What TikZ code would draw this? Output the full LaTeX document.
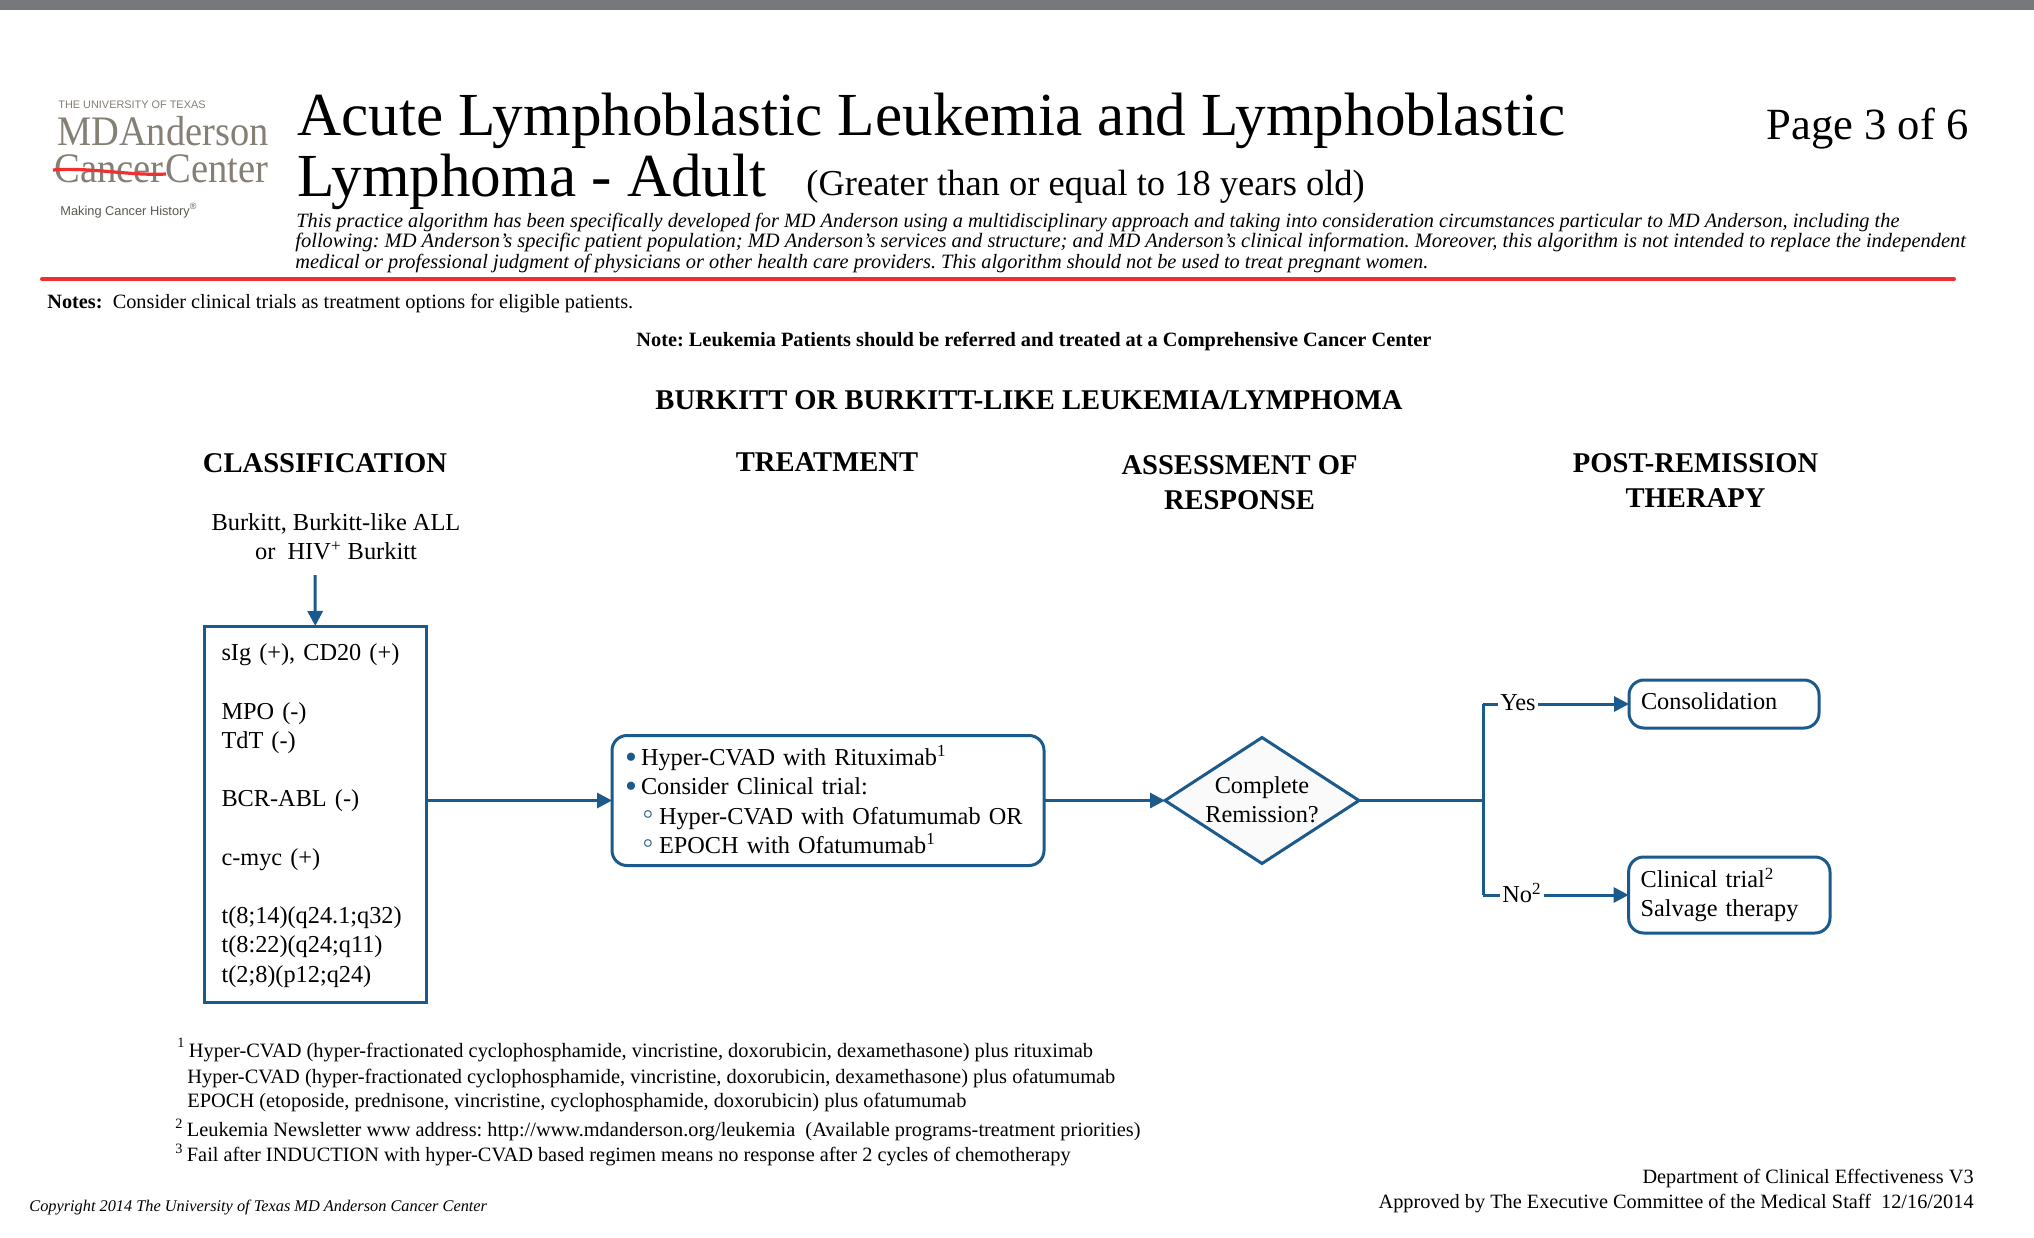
\documentclass[tikz,border=0pt]{standalone}
\usepackage{fontspec}
\setmainfont{Liberation Serif}
\setsansfont{Liberation Sans}
\usetikzlibrary{shapes.geometric,arrows.meta}
\definecolor{algblue}{HTML}{1B5A8C}
\definecolor{logogray}{HTML}{857F76}
\definecolor{rulered}{HTML}{EE3130}
\definecolor{bargray}{HTML}{77787B}
\frenchspacing
\newcommand{\treatdot}{\makebox[9.5pt][l]{\hspace{1.6pt}\textcolor{algblue}{\raisebox{-1.3pt}[0pt][0pt]{\scalebox{1.4}{\textbullet}}}}}
\newcommand{\treatring}{\makebox[18.5pt][l]{\hspace{10.5pt}\textcolor{algblue}{\raisebox{.5ex}[0pt][0pt]{\boldmath\footnotesize$\circ$}}}}
\tikzset{
  txt/.style={anchor=base west,inner sep=0pt},
  head/.style={inner sep=0pt,align=center,font=\fontsize{14.3}{17.5}\selectfont\bfseries},
  foot/.style={txt,font=\fontsize{10.2}{12}\selectfont},
  algbox/.style={draw=algblue,line width=1.5pt,outer sep=0pt,inner ysep=0pt,align=left,
    font=\fontsize{12.15}{14.6}\selectfont},
  roundbox/.style={algbox,rounded corners=7.5pt,fill=white},
  algline/.style={draw=algblue,line width=1.5pt},
  algarrow/.style={algline,-{Triangle[length=7.5pt,width=7.5pt]}}
}
\begin{document}
\begin{tikzpicture}[x=.5pt,y=-.5pt]
\useasboundingbox (0,0) rectangle (2034,1237);
\fill[white] (0,0) rectangle (2034,1237);
\fill[bargray] (0,0) rectangle (2034,10);

% logo
\node [txt,text=logogray,font=\sffamily\fontsize{5.45}{6}\selectfont] (logouniv) at (58,108) {THE UNIVERSITY OF TEXAS};
\node [txt,text=logogray,font=\fontsize{20}{24}\selectfont] (logomd) at (57,145) {\scalebox{.96}[1.05]{MDAnderson}};
\node [txt,text=logogray,font=\fontsize{20}{24}\selectfont] (logocc) at (54,182) {\scalebox{.965}[1.05]{Cancer\hspace{1pt}Center}};
\draw [rulered,line width=1.6pt] (53,170) .. controls (90,167) and (130,176) .. (166,174);
\node [txt,text=logogray!70!black,font=\sffamily\fontsize{6.4}{8}\selectfont] (logomaking) at (60,215) {Making Cancer History\textsuperscript{\textregistered}};

% heading
\node [txt,font=\fontsize{30.6}{36}\selectfont] (titleone) at (297,135) {Acute Lymphoblastic Leukemia and Lymphoblastic};
\node [txt,font=\fontsize{30.6}{36}\selectfont] (titletwo) at (297,196) {Lymphoma - Adult};
\node [txt,font=\fontsize{18.25}{22}\selectfont] (titleage) at (806,195) {(Greater than or equal to 18 years old)};
\node [txt,font=\fontsize{22.3}{26}\selectfont] (pagenum) at (1766,139) {Page 3 of 6};
\node [txt,font=\fontsize{10.16}{12}\selectfont\itshape] (practiceone) at (296,227) {This practice algorithm has been specifically developed for MD Anderson using a multidisciplinary approach and taking into consideration circumstances particular to MD Anderson, including the};
\node [txt,font=\fontsize{10.24}{12}\selectfont\itshape] (practicetwo) at (295,247) {following: MD Anderson’s specific patient population; MD Anderson’s services and structure; and MD Anderson’s clinical information. Moreover, this algorithm is not intended to replace the independent};
\node [txt,font=\fontsize{10.18}{12}\selectfont\itshape] (practicethree) at (295,268) {medical or professional judgment of physicians or other health care providers. This algorithm should not be used to treat pregnant women.};
\draw [rulered,line width=2pt,line cap=round] (42,279) -- (1954,279);

\node [txt,font=\fontsize{10.15}{12}\selectfont] (notes) at (47,308) {\textbf{Notes:}\ \ Consider clinical trials as treatment options for eligible patients.};
\node [txt,font=\fontsize{10.17}{12}\selectfont\bfseries] (notecenter) at (636,346) {Note: Leukemia Patients should be referred and treated at a Comprehensive Cancer Center};
\node [head] (burkitt) at (1029,400) {BURKITT OR BURKITT-LIKE LEUKEMIA/LYMPHOMA};

\node [head] (classhead) at (325,463) {CLASSIFICATION};
\node [head] (treathead) at (827,462) {TREATMENT};
\node [head] (assesshead) at (1239.5,482.5) {ASSESSMENT OF\\RESPONSE};
\node [head] (posthead) at (1695.5,481) {POST-REMISSION\\THERAPY};

\node [inner sep=0pt,align=center,font=\fontsize{12.2}{14.6}\selectfont] (entry) at (336,537) {Burkitt, Burkitt-like ALL\\or\ \ HIV\textsuperscript{+} Burkitt};
\coordinate (entryend) at (315,575);

\node [algbox,text width=93.75pt,inner xsep=8.5pt,minimum height=188pt] (class) at (315.25,814)
  {\rule{0pt}{10pt}sIg (+), CD20 (+)\\[14.6pt]MPO (-)\\TdT (-)\\[14.6pt]BCR-ABL (-)\\[14.6pt]c-myc (+)\\[14.6pt]t(8;14)(q24.1;q32)\\t(8:22)(q24;q11)\\t(2;8)(p12;q24)};

\node [roundbox,text width=206pt,inner xsep=5pt,minimum height=65pt] (treat) at (828,800.5)
  {\treatdot Hyper-CVAD with Rituximab\textsuperscript{1}\\\treatdot Consider Clinical trial:\\
   \treatring Hyper-CVAD with Ofatumumab OR\\\treatring EPOCH with Ofatumumab\textsuperscript{1}\rule[-1pt]{0pt}{0pt}};

\node [diamond,algbox,fill=black!2,align=center,inner sep=-6pt,aspect=1.54,minimum width=97pt,minimum height=63pt] (remission) at (1262,800.5) {Complete\\Remission?\rule[-1pt]{0pt}{0pt}};
\coordinate (branch) at (1483,800.5);

\node [inner sep=1pt,font=\fontsize{12.15}{14.6}\selectfont] (yes) at (1518,703) {Yes};
\node [inner sep=1pt,font=\fontsize{12.15}{14.6}\selectfont] (no) at (1522,893) {No\textsuperscript{2}};

\node [roundbox,text width=83pt,inner xsep=6pt,minimum height=24pt] (consol) at (1724,704) {\rule[-2.6pt]{0pt}{0pt}Consolidation};
\node [roundbox,text width=88.7pt,inner xsep=6pt,minimum height=38pt] (salvage) at (1729.3,895) {Clinical trial\textsuperscript{2}\\Salvage therapy};

\draw [algarrow] (entryend) -- (class.north);
\draw [algarrow] (class.east |- treat.west) -- (treat.west);
\draw [algarrow] (treat.east) -- (remission.west);
\draw [algline] (remission.east) -- (branch);
\draw [algline] (branch |- consol.west) -- (yes.west |- consol.west);
\draw [algline] (branch |- salvage.west) -- (no.west |- salvage.west);
\draw [algline] (branch |- consol.west) -- (branch |- salvage.west);
\draw [algarrow] (yes.east |- consol.west) -- (consol.west);
\draw [algarrow] (no.east |- salvage.west) -- (salvage.west);

% notes at the bottom
\node [foot] (footone) at (177,1057) {\raisebox{1pt}{\textsuperscript{1}}\,Hyper-CVAD (hyper-fractionated cyclophosphamide, vincristine, doxorubicin, dexamethasone) plus rituximab};
\node [foot] (foottwo) at (187,1083) {Hyper-CVAD (hyper-fractionated cyclophosphamide, vincristine, doxorubicin, dexamethasone) plus ofatumumab};
\node [foot] (footthree) at (187,1107) {EPOCH (etoposide, prednisone, vincristine, cyclophosphamide, doxorubicin) plus ofatumumab};
\node [foot,font=\fontsize{10.17}{12}\selectfont] (footfour) at (175,1136) {\textsuperscript{2}\,Leukemia Newsletter www address: http://www.mdanderson.org/leukemia\ \ (Available programs-treatment priorities)};
\node [foot,font=\fontsize{10.17}{12}\selectfont] (footfive) at (175,1161) {\textsuperscript{3}\,Fail after INDUCTION with hyper-CVAD based regimen means no response after 2 cycles of chemotherapy};
\node [txt,font=\fontsize{8.16}{10}\selectfont\itshape] (copyright) at (29,1211) {Copyright 2014 The University of Texas MD Anderson Cancer Center};
\node [anchor=base east,inner sep=0pt,font=\fontsize{10.15}{12}\selectfont] (dept) at (1974,1183) {Department of Clinical Effectiveness V3};
\node [anchor=base east,inner sep=0pt,font=\fontsize{10.15}{12}\selectfont] (approved) at (1974,1208) {Approved by The Executive Committee of the Medical Staff\ \ 12/16/2014};
\end{tikzpicture}
\end{document}
